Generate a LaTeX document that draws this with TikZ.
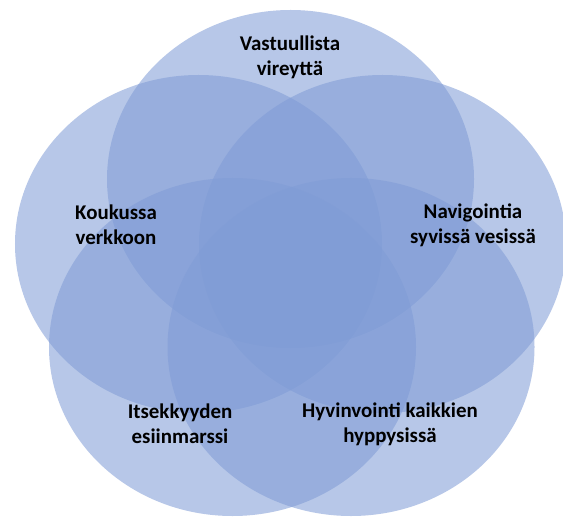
\documentclass[tikz,border=0pt]{standalone}
\usepackage{fontspec}
\setmainfont{Carlito}
\begin{document}
\begin{tikzpicture}[x=1bp,y=-1bp,
  bub/.style={fill={rgb,255:red,128;green,156;blue,214},fill opacity=0.56},
  lbl/.style={align=center,inner sep=0pt,text=black,font=\bfseries\fontsize{21}{25}\selectfont}]
\useasboundingbox (0,0) rectangle (563,518);
\fill[white] (0,0) rectangle (563,518);
\fill[bub] (290.5,179) ellipse [x radius=183.5bp, y radius=169bp];
\fill[bub] (198.5,244) ellipse [x radius=183.5bp, y radius=169bp];
\fill[bub] (382.5,244) ellipse [x radius=183.5bp, y radius=169bp];
\fill[bub] (232.5,347) ellipse [x radius=183.5bp, y radius=169bp];
\fill[bub] (351,347) ellipse [x radius=183.5bp, y radius=169bp];
\node[lbl] (t1) at (290,57) {Vastuullista\\vireyttä};
\node[lbl] (t2) at (116,225) {Koukussa\\verkkoon};
\node[lbl] (t3) at (473,225) {Navigointia\\syvissä vesissä};
\node[lbl] (t4) at (180,424) {Itsekkyyden\\esiinmarssi};
\node[lbl] (t5) at (390,424) {Hyvinvointi kaikkien\\hyppysissä};
\end{tikzpicture}
\end{document}
